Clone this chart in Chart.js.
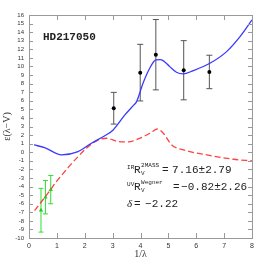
<!DOCTYPE html>
<html>
<head>
<meta charset="utf-8">
<script src="https://cdn.jsdelivr.net/npm/chart.js@4.4.0/dist/chart.umd.min.js"></script>
<style>
  html, body { margin: 0; padding: 0; background: #fff; }
</style>
</head>
<body>
<canvas id="c" width="266" height="266"></canvas>
<script>
// model curve (blue) and dust curve (red dashed)
const modelX = [0.18, 0.56, 1.17, 1.76, 2.24, 2.72, 3.02, 3.44, 3.73, 3.86, 4.09, 4.33, 4.55, 4.7, 4.81, 5.05, 5.29, 5.53, 5.89, 6.49, 7.09, 7.57, 8.0];
const modelY = [0.85, 0.54, -0.31, 0.07, 1.05, 1.93, 2.6, 4.35, 5.4, 5.9, 8.04, 9.79, 10.76, 10.8, 10.68, 9.98, 9.32, 9.13, 9.51, 10.37, 11.73, 13.47, 15.42];
const dustX = [0.2, 0.68, 0.99, 1.22, 1.4, 1.76, 2.06, 2.3, 2.54, 2.78, 3.0, 3.2, 3.56, 3.92, 4.34, 4.6, 4.82, 5.12, 5.54, 6.38, 7.34, 8.0];
const dustY = [-6.8, -4.78, -3.4, -2.5, -1.8, -0.51, 0.47, 1.1, 1.5, 1.63, 1.45, 1.24, 1.2, 1.55, 2.21, 2.71, 2.21, 0.85, 0.27, -0.31, -0.82, -1.01];

// observed points with errors (black) and IR points (green)
const obsX = [3.04, 3.99, 4.55, 5.55, 6.47];
const obsY = [5.13, 9.28, 11.37, 9.56, 9.36];
const obsErr = [1.85, 3.3, 4.1, 3.45, 1.95];
const irX = [0.43, 0.59, 0.78];
const irY = [-6.76, -5.24, -4.36];
const irErr = [2.55, 1.95, 1.65];

const xTicks = [0, 1, 2, 3, 4, 5, 6, 7, 8];
const yTicks = [];
for (let v = -10; v <= 16; v++) yTicks.push(v);

const toPts = (xs, ys) => xs.map((x, i) => ({ x: x, y: ys[i] }));

const errorBars = {
    id: 'errorBars',
    beforeDatasetsDraw(chart) {
        const { ctx, scales: { x, y } } = chart;
        const draw = (xs, ys, es, color, cap) => {
            ctx.save();
            ctx.strokeStyle = color;
            ctx.lineWidth = 1;
            xs.forEach((xv, i) => {
                const px = x.getPixelForValue(xv);
                const top = y.getPixelForValue(ys[i] + es[i]);
                const bot = y.getPixelForValue(ys[i] - es[i]);
                ctx.beginPath();
                ctx.moveTo(px, top); ctx.lineTo(px, bot);
                ctx.moveTo(px - cap, top); ctx.lineTo(px + cap, top);
                ctx.moveTo(px - cap, bot); ctx.lineTo(px + cap, bot);
                ctx.stroke();
            });
            ctx.restore();
        };
        draw(obsX, obsY, obsErr, '#555', 3);
        draw(irX, irY, irErr, '#33dd33', 2.5);
    }
};

// frame with inward ticks on all four sides, plus the annotations
const frame = {
    id: 'frame',
    afterDraw(chart) {
        const { ctx, chartArea: a, scales: { x, y } } = chart;
        ctx.save();
        ctx.strokeStyle = '#999';
        ctx.lineWidth = 1;
        ctx.strokeRect(a.left + 0.5, a.top + 0.5, a.right - a.left, a.bottom - a.top);
        ctx.beginPath();
        xTicks.forEach(v => {
            const px = Math.round(x.getPixelForValue(v)) + 0.5;
            ctx.moveTo(px, a.bottom); ctx.lineTo(px, a.bottom - 5);
            ctx.moveTo(px, a.top); ctx.lineTo(px, a.top + 5);
        });
        yTicks.forEach(v => {
            const py = Math.round(y.getPixelForValue(v)) + 0.5;
            ctx.moveTo(a.left, py); ctx.lineTo(a.left + 4, py);
            ctx.moveTo(a.right, py); ctx.lineTo(a.right - 4, py);
        });
        ctx.stroke();

        ctx.fillStyle = '#222';
        ctx.textBaseline = 'middle';
        ctx.textAlign = 'left';
        ctx.font = 'bold 11px "Liberation Mono"';
        ctx.fillText('HD217050', x.getPixelForValue(0.5), y.getPixelForValue(13.4));

        const x0 = x.getPixelForValue(3.52);
        const big = '11px "Liberation Mono"';
        const small = '6px "Liberation Mono"';
        // line 1
        let py = y.getPixelForValue(-2.03);
        ctx.font = small; ctx.fillText('IR', x0, py - 2);
        ctx.font = big; ctx.fillText('R', x0 + 7, py);
        ctx.font = small; ctx.fillText('V', x0 + 14, py + 4);
        ctx.fillText('2MASS', x0 + 14, py - 4);
        ctx.font = big; ctx.fillText('=', x0 + 35, py);
        ctx.fillText('7.16\u00b12.79', x0 + 45, py);
        // line 2
        py = y.getPixelForValue(-4.04);
        ctx.font = small; ctx.fillText('UV', x0, py - 2);
        ctx.font = big; ctx.fillText('R', x0 + 7, py);
        ctx.font = small; ctx.fillText('V', x0 + 14, py + 4);
        ctx.fillText('Wegner', x0 + 14, py - 4);
        ctx.font = big; ctx.fillText('=', x0 + 46, py);
        ctx.fillText('\u22120.82\u00b12.26', x0 + 54, py);
        // line 3
        py = y.getPixelForValue(-6.03);
        ctx.font = 'italic 11px "Liberation Serif"';
        ctx.fillText('\u03b4', x0, py);
        ctx.font = big;
        ctx.fillText('=', x0 + 7, py);
        ctx.fillText('\u22122.22', x0 + 18, py);
        ctx.restore();
    }
};

new Chart(document.getElementById('c').getContext('2d'), {
    type: 'scatter',
    data: {
        datasets: [
            {
                data: toPts(modelX, modelY),
                showLine: true,
                borderColor: '#3a3aff',
                borderWidth: 1.3,
                pointRadius: 0,
                cubicInterpolationMode: 'monotone'
            },
            {
                data: toPts(dustX, dustY),
                showLine: true,
                borderColor: '#ff4040',
                borderWidth: 1.3,
                borderDash: [6, 3],
                pointRadius: 0,
                cubicInterpolationMode: 'monotone'
            },
            {
                data: toPts(obsX, obsY),
                pointRadius: 2,
                pointBackgroundColor: '#000',
                pointBorderColor: '#000',
                pointBorderWidth: 0
            },
            {
                data: toPts(irX, irY),
                pointStyle: 'triangle',
                pointRadius: 2.5,
                pointBackgroundColor: '#22cc22',
                pointBorderColor: '#22cc22',
                pointBorderWidth: 0
            }
        ]
    },
    options: {
        responsive: false,
        animation: false,
        devicePixelRatio: 1,
        layout: { padding: { top: 15, right: 14, left: 0, bottom: 0 } },
        scales: {
            x: {
                type: 'linear',
                min: 0, max: 8,
                afterFit: s => { s.height = 28; },
                afterBuildTicks: s => { s.ticks = xTicks.map(v => ({ value: v })); },
                ticks: { color: '#333', font: { size: 7, family: 'Liberation Sans' }, padding: 4 },
                grid: { display: false, drawTicks: false },
                border: { display: false },
                title: { display: true, text: '1/\u03bb', color: '#333', font: { size: 10, family: 'Liberation Serif' }, padding: { top: 0, bottom: 6 } }
            },
            y: {
                type: 'linear',
                min: -10, max: 16,
                afterFit: s => { s.width = 29; },
                afterBuildTicks: s => { s.ticks = yTicks.map(v => ({ value: v })); },
                ticks: { color: '#333', font: { size: 6, family: 'Liberation Sans' }, padding: 5, autoSkip: false },
                grid: { display: false, drawTicks: false },
                border: { display: false },
                title: { display: true, text: '\u03b5(\u03bb\u2212V)', color: '#333', font: { size: 10, family: 'Liberation Serif' }, padding: { top: 1, bottom: 0 } }
            }
        },
        plugins: {
            legend: { display: false },
            tooltip: { enabled: false }
        }
    },
    plugins: [errorBars, frame]
});
</script>
</body>
</html>
